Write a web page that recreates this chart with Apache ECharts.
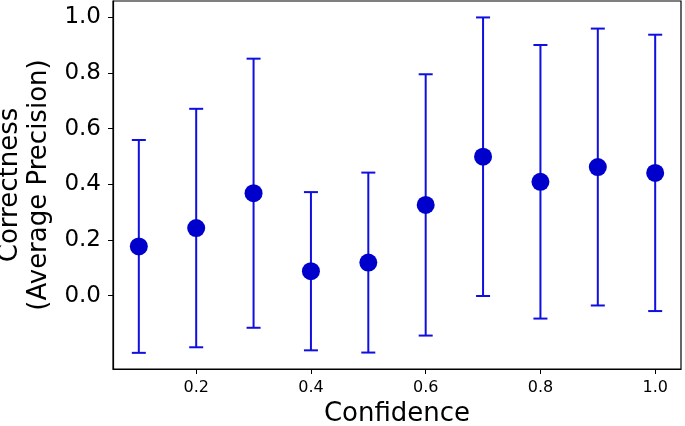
<!DOCTYPE html>
<html>
<head>
<meta charset="utf-8">
<script src="https://cdn.jsdelivr.net/npm/echarts@6/dist/echarts.min.js"></script>
<style>
  html, body { margin: 0; padding: 0; background: #fff; }
  #chart { width: 685px; height: 426px; }
</style>
</head>
<body>
<div id="chart"></div>
<script>
const confidence = [0.1, 0.2, 0.3, 0.4, 0.5, 0.6, 0.7, 0.8, 0.9, 1.0];
const correctness = [0.177, 0.243, 0.368, 0.088, 0.119, 0.326, 0.499, 0.409, 0.462, 0.441];
const errors = [0.382, 0.428, 0.483, 0.284, 0.323, 0.469, 0.500, 0.491, 0.497, 0.496];
const xTicks = [0.2, 0.4, 0.6, 0.8, 1.0];
const yTicks = [0.0, 0.2, 0.4, 0.6, 0.8, 1.0];

const FONT = 'DejaVu Sans';
const chart = echarts.init(document.getElementById('chart'), null, { renderer: 'canvas' });

const errData = confidence.map((c, i) => [c, correctness[i], errors[i]]);
const ptData = confidence.map((c, i) => [c, correctness[i]]);

chart.setOption({
  animation: false,
  backgroundColor: '#fff',
  grid: {
    left: 113, right: 4, top: 1, bottom: 57,
    show: true, borderColor: '#000', borderWidth: 1.2,
    containLabel: false, outerBoundsMode: 'none'
  },
  xAxis: {
    type: 'value', min: 0.055, max: 1.045,
    name: 'Confidence', nameLocation: 'middle', nameGap: 30,
    nameTextStyle: { fontFamily: FONT, fontSize: 26, color: '#000' },
    axisLine: { show: true, onZero: false, lineStyle: { color: '#000', width: 1.2 } },
    axisTick: { show: true, inside: false, length: 5, customValues: xTicks, lineStyle: { color: '#000', width: 1 } },
    axisLabel: { show: true, customValues: xTicks, margin: 11, fontFamily: FONT, fontSize: 16, color: '#000',
      formatter: v => Number(v).toFixed(1) },
    splitLine: { show: false }
  },
  yAxis: {
    type: 'value', min: -0.263, max: 1.058,
    name: 'Correctness\n(Average Precision)', nameLocation: 'middle', nameGap: 53, nameRotate: 90,
    nameTextStyle: { fontFamily: FONT, fontSize: 26, color: '#000', lineHeight: 29, align: 'center' },
    axisLine: { show: true, onZero: false, lineStyle: { color: '#000', width: 1.2 } },
    axisTick: { show: true, inside: false, length: 5, customValues: yTicks, lineStyle: { color: '#000', width: 1 } },
    axisLabel: { show: true, customValues: yTicks, margin: 12, fontFamily: FONT, fontSize: 23, color: '#000',
      formatter: v => Number(v).toFixed(1) },
    splitLine: { show: false }
  },
  series: [
    {
      type: 'custom',
      data: errData,
      z: 2,
      renderItem: function (params, api) {
        const x = api.value(0), y = api.value(1), e = api.value(2);
        const top = api.coord([x, y + e]);
        const bot = api.coord([x, y - e]);
        const hw = 7;
        const style = { stroke: '#0f0fe0', lineWidth: 2 };
        return {
          type: 'group',
          children: [
            { type: 'line', shape: { x1: top[0], y1: top[1], x2: bot[0], y2: bot[1] }, style: style },
            { type: 'line', shape: { x1: top[0] - hw, y1: top[1], x2: top[0] + hw, y2: top[1] }, style: style },
            { type: 'line', shape: { x1: bot[0] - hw, y1: bot[1], x2: bot[0] + hw, y2: bot[1] }, style: style }
          ]
        };
      }
    },
    {
      type: 'scatter',
      data: ptData,
      z: 3,
      symbol: 'circle',
      symbolSize: 18,
      itemStyle: { color: '#0000cc', opacity: 1 }
    }
  ]
});
</script>
</body>
</html>
